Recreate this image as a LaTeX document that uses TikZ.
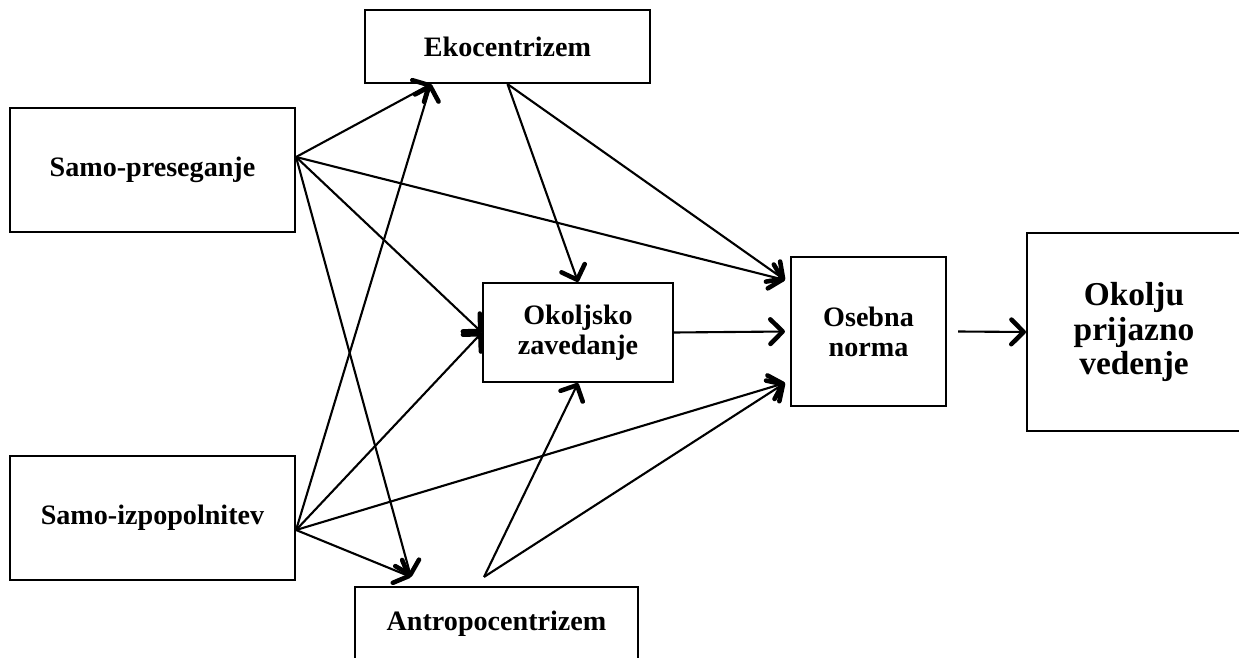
\documentclass[tikz,border=0pt]{standalone}
\usepackage{fontspec}
\setmainfont{Liberation Serif}
\usetikzlibrary{arrows.meta}

\tikzset{
  box/.style={draw, line width=1.2pt, align=center, inner sep=0pt,
    font=\bfseries\fontsize{16}{17}\selectfont},
  link/.style={line width=1.2pt,
    -{Straight Barb[length=7pt,width=14pt,line width'=2.6pt,round]}}
}

\begin{document}
\begin{tikzpicture}[x=0.2mm, y=-0.2mm]

\useasboundingbox (0,0) rectangle (1239,658);

\node[box, minimum width=57mm, minimum height=14.6mm] (eko) at (507.5,46.5) {Ekocentrizem};
\node[box, minimum width=57mm, minimum height=24.8mm] (sp) at (152.5,170) {Samo-preseganje};
\node[box, minimum width=57mm, minimum height=24.8mm] (si) at (152.5,518) {Samo-izpopolnitev};
\node[box, minimum width=38mm, minimum height=19.8mm] (ok) at (578,332.5) {Okoljsko\\zavedanje};
\node[box, minimum width=31mm, minimum height=29.8mm] (on) at (868.5,331.5) {Osebna\\norma};
\node[box, minimum width=42.8mm, minimum height=39.6mm,
  font=\bfseries\fontsize{19}{19.6}\selectfont] (opv) at (1134,332) {Okolju\\prijazno\\vedenje};
\node[box, minimum width=56.6mm, minimum height=14.6mm] (an) at (496.5,623.5) {Antropocentrizem};

% end points on the boxes
\coordinate (sp-out) at ([yshift=2.6mm]sp.east);
\coordinate (si-out) at ([yshift=-2.4mm]si.east);
\coordinate (eko-in) at ([xshift=-15.3mm]eko.south);
\coordinate (an-in) at ([xshift=-17.1mm,yshift=1.8mm]an.north);
\coordinate (an-out) at ([xshift=-2.5mm,yshift=1.8mm]an.north);
\coordinate (on-top) at ([xshift=-1mm,yshift=10.3mm]on.west);
\coordinate (on-mid) at ([xshift=-1mm]on.west);
\coordinate (on-bot) at ([xshift=-1mm,yshift=-10.3mm]on.west);
\coordinate (on-out) at ([xshift=2.2mm]on.east);

\draw[link] (sp-out) -- (eko-in);
\draw[link] (sp-out) -- (ok.west);
\draw[link] (sp-out) -- (on-top);
\draw[link] (sp-out) -- (an-in);

\draw[link] (si-out) -- (eko-in);
\draw[link] (si-out) -- (ok.west);
\draw[link] (si-out) -- (on-bot);
\draw[link] (si-out) -- (an-in);

\draw[link] (eko.south) -- (ok.north);
\draw[link] (eko.south) -- (on-top);

\draw[link] (an-out) -- (ok.south);
\draw[link] (an-out) -- (on-bot);

\draw[link] (ok.east) -- (on-mid);
\draw[link] (on-out) -- (opv.west);

\end{tikzpicture}
\end{document}
